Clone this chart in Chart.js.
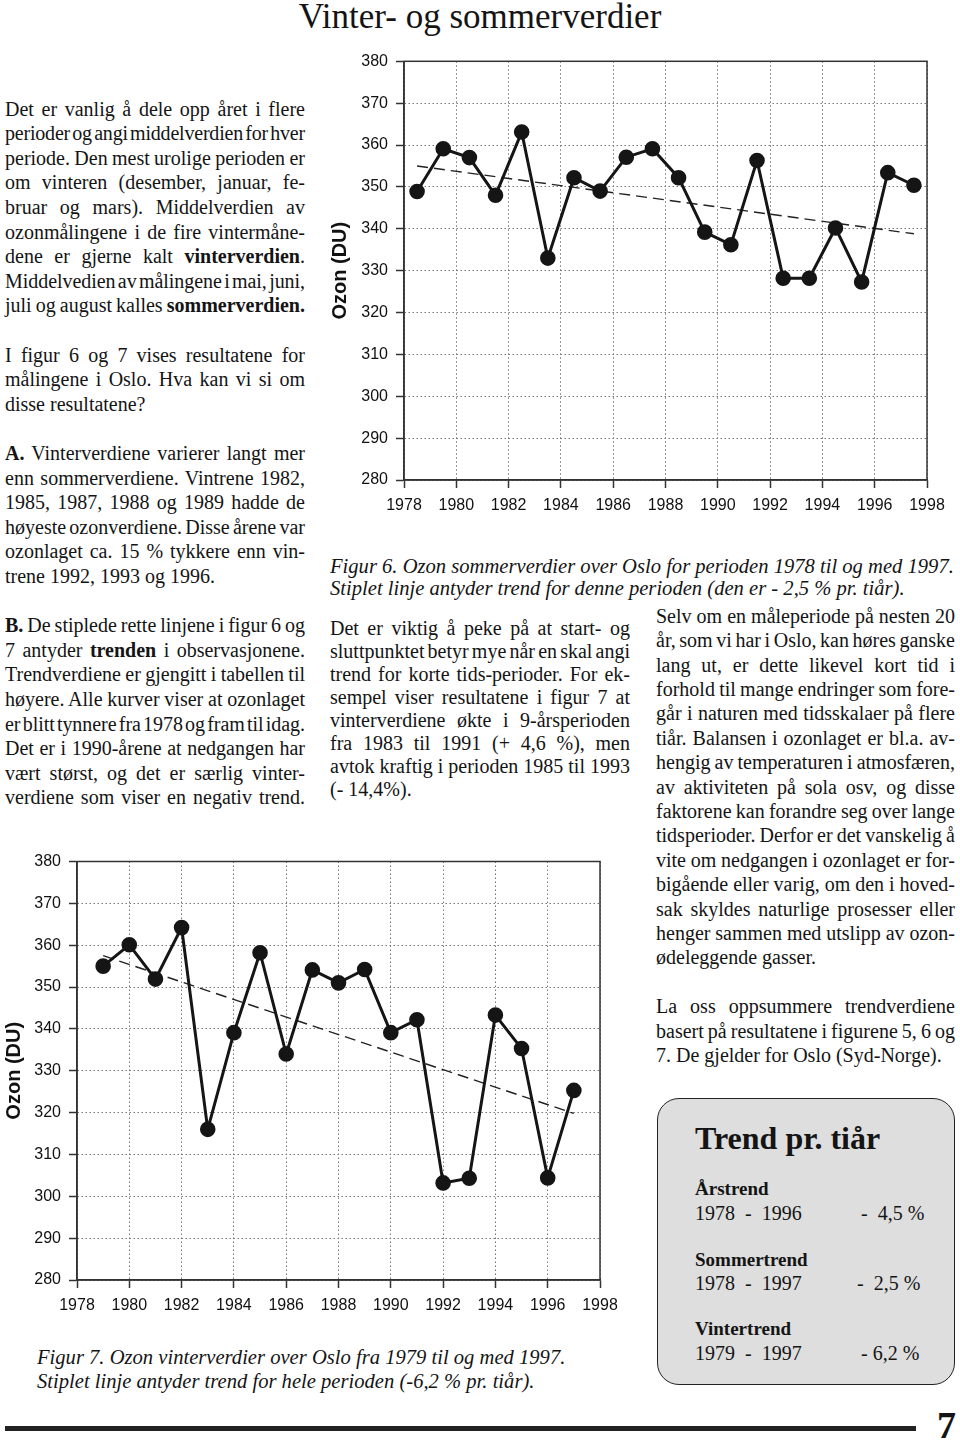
<!DOCTYPE html>
<html>
<head>
<meta charset="utf-8">
<script src="https://cdn.jsdelivr.net/npm/chart.js@4.4.1/dist/chart.umd.min.js"></script>
<style>
body{margin:0;width:960px;height:1440px;position:relative;background:#fff;color:#141414;font-family:"Liberation Serif","Times New Roman",serif;overflow:hidden}
.abs{position:absolute;white-space:pre}
.col{position:absolute;font-size:20px}
.col div{text-align:justify;text-align-last:justify}
.col div.l{text-align-last:left}
.cap{position:absolute;font-style:italic;font-size:20.6px;white-space:nowrap}
#trend{position:absolute;left:657px;top:1098px;width:298px;height:287px;box-sizing:border-box;border:1.6px solid #222;border-radius:22px;background:#dedede}
#trend .abs{font-size:20px;line-height:22px}
canvas{position:absolute}
</style>
</head>
<body>

<div class="abs" style="left:0;top:-1px;width:960px;text-align:center;font-size:35px;line-height:36px">Vinter- og sommerverdier</div>

<div class="col" style="left:5px;top:96.7px;width:300px;line-height:24.6px">
<div>Det er vanlig å dele opp året i flere</div>
<div>perioder og angi middelverdien for hver</div>
<div>periode. Den mest urolige perioden er</div>
<div>om vinteren (desember, januar, fe-</div>
<div>bruar og mars). Middelverdien av</div>
<div>ozonmålingene i de fire vintermåne-</div>
<div>dene er gjerne kalt <b>vinterverdien</b>.</div>
<div>Middelvedien av målingene i mai, juni,</div>
<div>juli og august kalles <b>sommerverdien.</b></div>
<div class="l">&nbsp;</div>
<div>I figur 6 og 7 vises resultatene for</div>
<div>målingene i Oslo.  Hva kan vi si om</div>
<div class="l">disse resultatene?</div>
<div class="l">&nbsp;</div>
<div><b>A.</b> Vinterverdiene varierer langt mer</div>
<div>enn sommerverdiene. Vintrene 1982,</div>
<div>1985, 1987, 1988 og 1989 hadde de</div>
<div>høyeste ozonverdiene. Disse årene var</div>
<div>ozonlaget ca. 15 %  tykkere enn vin-</div>
<div class="l">trene 1992, 1993 og 1996.</div>
<div class="l">&nbsp;</div>
<div><b>B.</b> De stiplede rette linjene i figur 6 og</div>
<div>7 antyder <b>trenden</b> i observasjonene.</div>
<div>Trendverdiene er gjengitt i tabellen til</div>
<div>høyere. Alle kurver viser at ozonlaget</div>
<div>er blitt tynnere fra 1978 og fram til idag.</div>
<div>Det er i 1990-årene at  nedgangen har</div>
<div>vært størst, og det er særlig vinter-</div>
<div>verdiene som viser en negativ trend.</div>
</div>

<div class="cap" style="left:330px;top:555px;line-height:22px">Figur 6. Ozon sommerverdier over Oslo for perioden 1978 til og med 1997.<br>Stiplet linje antyder trend for denne perioden (den er - 2,5 % pr. tiår).</div>

<div class="col" style="left:330px;top:616.5px;width:300px;line-height:23px">
<div>Det er viktig å peke på at  start-  og</div>
<div>sluttpunktet betyr mye når en skal angi</div>
<div>trend for korte tids-perioder. For ek-</div>
<div>sempel viser resultatene  i figur 7 at</div>
<div>vinterverdiene økte i 9-årsperioden</div>
<div>fra  1983 til  1991  (+ 4,6 %),  men</div>
<div>avtok kraftig i perioden 1985 til 1993</div>
<div class="l">(- 14,4%).</div>
</div>

<div class="col" style="left:656px;top:603.8px;width:299px;line-height:24.4px">
<div>Selv om en måleperiode på nesten 20</div>
<div>år, som vi har i Oslo, kan høres ganske</div>
<div>lang  ut, er dette  likevel  kort tid i</div>
<div>forhold til mange endringer som fore-</div>
<div>går i naturen med tidsskalaer på flere</div>
<div>tiår. Balansen i ozonlaget er bl.a. av-</div>
<div>hengig av temperaturen i atmosfæren,</div>
<div>av aktiviteten på sola osv, og disse</div>
<div>faktorene kan forandre seg over lange</div>
<div>tidsperioder. Derfor er det vanskelig å</div>
<div>vite om nedgangen i ozonlaget er for-</div>
<div>bigående eller varig, om den i hoved-</div>
<div>sak skyldes naturlige prosesser eller</div>
<div>henger sammen med utslipp av ozon-</div>
<div class="l">ødeleggende gasser.</div>
<div class="l">&nbsp;</div>
<div>La oss oppsummere trendverdiene</div>
<div>basert på resultatene i figurene 5, 6 og</div>
<div class="l">7. De gjelder for Oslo (Syd-Norge).</div>
</div>

<div id="trend">
<div class="abs" style="left:37px;top:21px;font-size:32px;line-height:36px;font-weight:bold">Trend pr. tiår</div>
<div class="abs" style="left:37px;top:79px;font-weight:bold;font-size:19px">Årstrend</div>
<div class="abs" style="left:37px;top:102.7px">1978  -  1996</div>
<div class="abs" style="left:203px;top:102.7px">-  4,5 %</div>
<div class="abs" style="left:37px;top:150px;font-weight:bold;font-size:19px">Sommertrend</div>
<div class="abs" style="left:37px;top:172.7px">1978  -  1997</div>
<div class="abs" style="left:199px;top:172.7px">-  2,5 %</div>
<div class="abs" style="left:37px;top:219px;font-weight:bold;font-size:19px">Vintertrend</div>
<div class="abs" style="left:37px;top:242.7px">1979  -  1997</div>
<div class="abs" style="left:203px;top:242.7px">- 6,2 %</div>
</div>

<div class="cap" style="left:37px;top:1345px;line-height:24px">Figur 7.  Ozon vinterverdier over Oslo fra 1979 til og med 1997.<br>Stiplet linje antyder trend for hele perioden (-6,2 % pr. tiår).</div>

<div style="position:absolute;left:5px;top:1426px;width:911px;height:4.5px;background:#222"></div>
<div class="abs" style="left:937px;top:1404px;font-size:38px;line-height:42px;font-weight:bold">7</div>

<canvas id="fig6" width="640" height="490" style="left:320px;top:40px"></canvas>
<canvas id="fig7" width="640" height="490" style="left:0;top:840px"></canvas>

<script>
// data (ozone, DU)
const summerYears = [1978, 1979, 1980, 1981, 1982, 1983, 1984, 1985, 1986, 1987, 1988, 1989, 1990, 1991, 1992, 1993, 1994, 1995, 1996, 1997];
const summerOzone = [348.9, 359.1, 357.0, 348.0, 363.1, 333.0, 352.2, 349.0, 357.1, 359.1, 352.2, 339.2, 336.2, 356.3, 328.2, 328.2, 340.2, 327.3, 353.4, 350.4];
const summerTrendYears = [1978, 1997];
const summerTrendOzone = [355.0, 338.8];

const winterYears = [1979, 1980, 1981, 1982, 1983, 1984, 1985, 1986, 1987, 1988, 1989, 1990, 1991, 1992, 1993, 1994, 1995, 1996, 1997];
const winterOzone = [355.0, 360.1, 351.9, 364.2, 316.0, 339.1, 358.2, 334.0, 354.1, 351.0, 354.2, 339.1, 342.2, 303.2, 304.3, 343.3, 335.3, 304.4, 325.3];
const winterTrendYears = [1979, 1997];
const winterTrendOzone = [357.5, 319.8];

const xTicks = [1978, 1980, 1982, 1984, 1986, 1988, 1990, 1992, 1994, 1996, 1998];
const yTicks = [280, 290, 300, 310, 320, 330, 340, 350, 360, 370, 380];


// squeeze only the text lines that are too long, like the typesetter did
document.querySelectorAll('.col div').forEach(function(el){
	var lh = parseFloat(getComputedStyle(el).lineHeight);
	var ws = 0, ls = 0;
	var squeeze = function(){
		if (ws > -3) { ws -= 0.25; el.style.wordSpacing = ws + 'px'; }
		else { ls -= 0.05; el.style.letterSpacing = ls + 'px'; }
	};
	var r = document.createRange();
	r.selectNodeContents(el);
	el.style.whiteSpace = 'nowrap';
	el.style.textAlignLast = 'left';
	while (r.getBoundingClientRect().width > el.clientWidth - 0.5 && ls > -2) squeeze();
	el.style.whiteSpace = '';
	el.style.textAlignLast = '';
	while (el.offsetHeight > lh * 1.5 && ls > -2.5) squeeze();
});


const frame = {
	id: 'frame',
	beforeDatasetsDraw(chart) {
		const a = chart.chartArea, c = chart.ctx;
		c.save();
		c.strokeStyle = '#333';
		c.lineWidth = 1.5;
		c.strokeRect(a.left, a.top, a.right - a.left, a.bottom - a.top);
		c.restore();
	}
};

const gridOpts = { color: '#777', lineWidth: 1, tickColor: '#333', tickLength: 8, tickWidth: 1.5 };
const borderOpts = { color: '#333', width: 1.5, dash: [1.5, 2.5] };

ozonChart = (id, years, values, shift, trendYears, trendValues, yWidth, titlePad, pad) => {
	const ctx = document.getElementById(id).getContext('2d');
	return new Chart(ctx, {
		type: 'line',
		data: {
			datasets: [{
				data: years.map((y, i) => ({ x: y + shift, y: values[i] })),
				borderColor: '#151515',
				borderWidth: 3,
				pointRadius: 6.3,
				pointBackgroundColor: '#151515',
				pointBorderColor: '#151515',
				order: 1
			}, {
				data: trendYears.map((y, i) => ({ x: y + shift, y: trendValues[i] })),
				borderColor: '#222',
				borderWidth: 1.4,
				borderDash: [11, 6],
				pointRadius: 0,
				order: 2
			}]
		},
		options: {
			responsive: false,
			animation: false,
			layout: { padding: pad },
			plugins: { legend: { display: false }, tooltip: { enabled: false } },
			scales: {
				x: {
					type: 'linear', min: 1978, max: 1998,
					afterBuildTicks: s => { s.ticks = xTicks.map(v => ({ value: v })); },
					afterFit: s => { s.height = 50; },
					ticks: { callback: v => String(v), font: { family: 'Liberation Sans', size: 16 }, color: '#111', padding: 8, maxRotation: 0, autoSkip: false },
					grid: gridOpts,
					border: borderOpts
				},
				y: {
					min: 280, max: 380,
					afterBuildTicks: s => { s.ticks = yTicks.map(v => ({ value: v })); },
					afterFit: s => { s.width = yWidth; },
					ticks: { font: { family: 'Liberation Sans', size: 16 }, color: '#111', padding: 8 },
					grid: gridOpts,
					border: borderOpts,
					title: { display: true, text: 'Ozon (DU)', color: '#111', font: { family: 'Liberation Sans', size: 20, weight: 'bold' }, padding: { top: titlePad, bottom: 0 } }
				}
			}
		},
		plugins: [frame]
	});
}

// Figur 6: summer means are drawn at mid-year
ozonChart('fig6', summerYears, summerOzone, 0.5, summerTrendYears, summerTrendOzone, 84, 8, { top: 21.3, right: 33, left: 0, bottom: 0 });
// Figur 7: winter means
ozonChart('fig7', winterYears, winterOzone, 0, winterTrendYears, winterTrendOzone, 77, 2, { top: 21.5, right: 40, left: 0, bottom: 0 });
</script>
</body>
</html>
